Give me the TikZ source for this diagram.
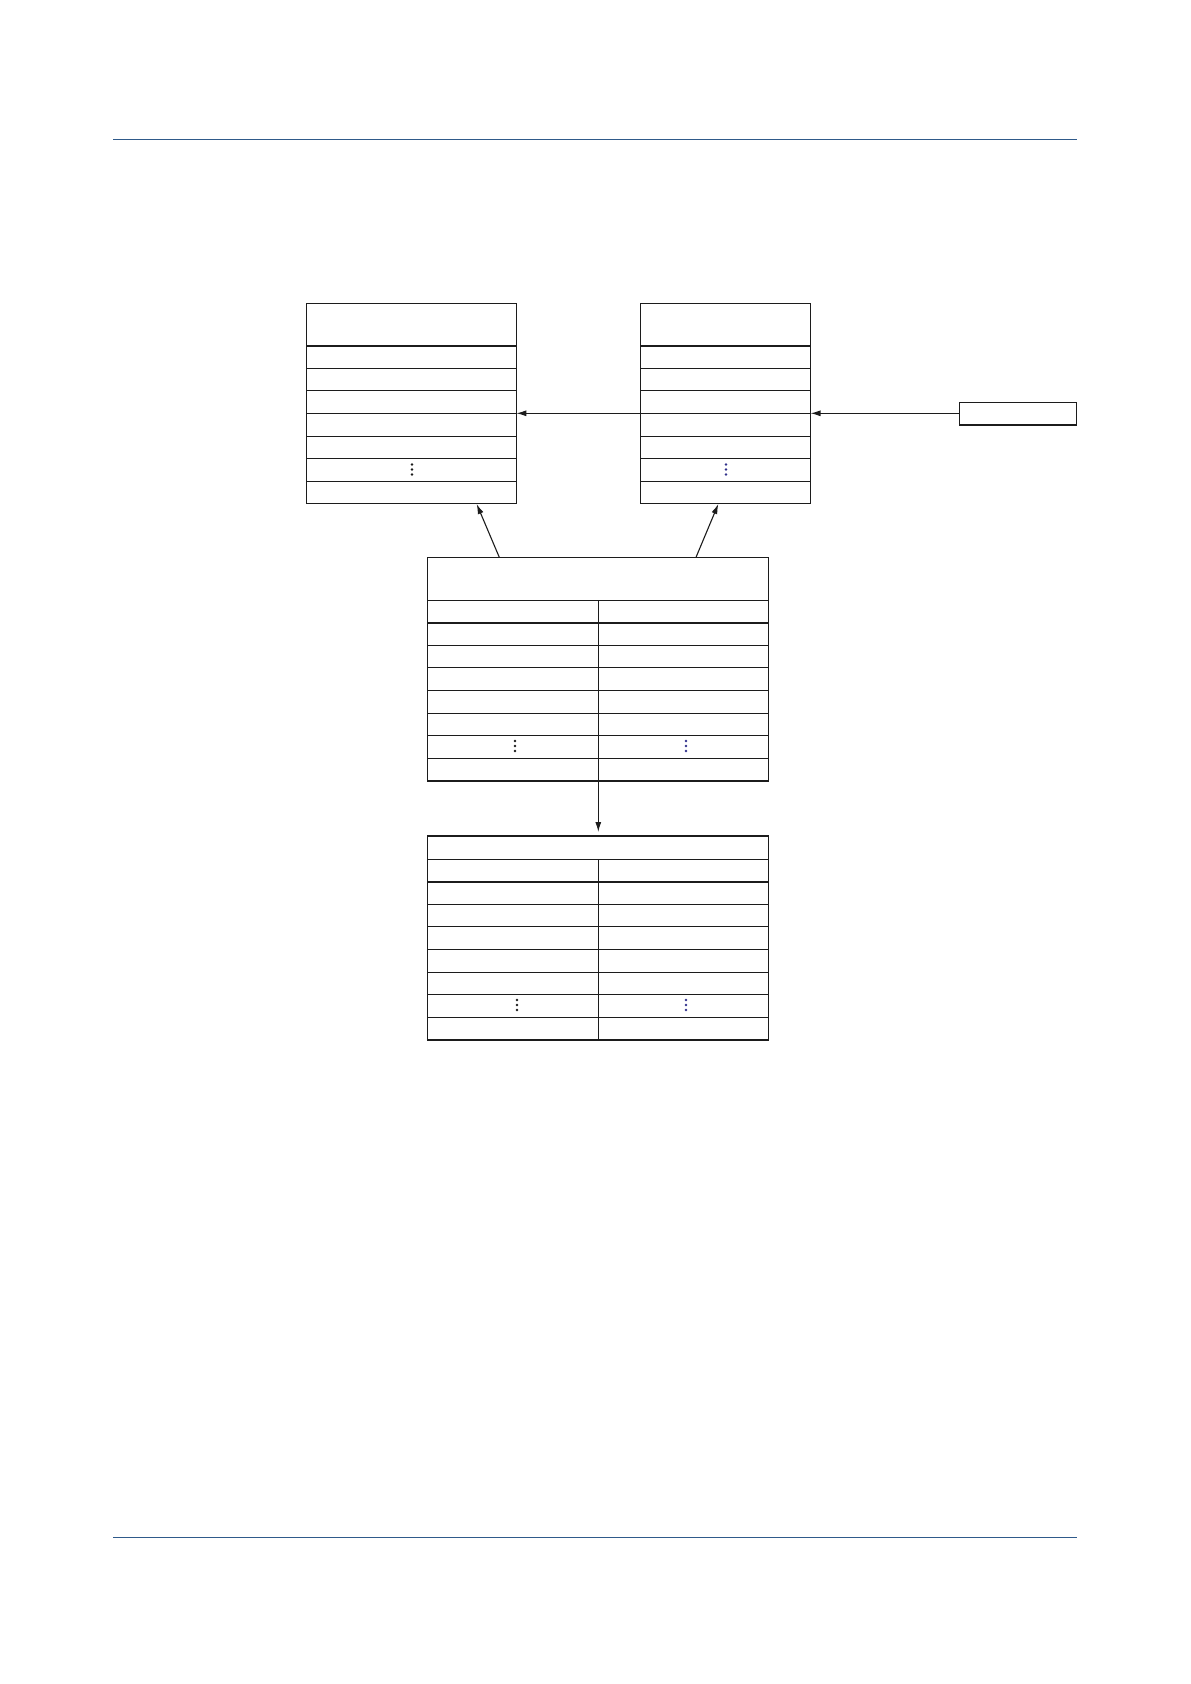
\documentclass[tikz,border=0pt]{standalone}
\usetikzlibrary{arrows.meta}
\definecolor{rulecol}{RGB}{47,90,138}
\definecolor{linecol}{RGB}{28,28,28}
\definecolor{dotblue}{RGB}{50,50,140}
\begin{document}
\begin{tikzpicture}[x=1pt,y=-1pt,
  tbl/.style={draw=linecol,line width=1.1pt,inner sep=0pt,outer sep=0pt,anchor=north west},
  rowline/.style={draw=linecol,line width=1.1pt},
  thickline/.style={draw=linecol,line width=2.1pt},
  conn/.style={draw=linecol,line width=1.1pt,-{Latex[length=10pt,width=6pt]}},
  pagerule/.style={draw=rulecol,line width=1.3pt}]
\useasboundingbox (0,0) rectangle (1191,1684);
% page rules
\coordinate (r1a) at (113,139.3);
\coordinate (r1b) at (1076.7,139.3);
\coordinate (r2a) at (113,1537.3);
\coordinate (r2b) at (1076.7,1537.3);
\draw[pagerule] (r1a) -- (r1b);
\draw[pagerule] (r2a) -- (r2b);
% top-left table
\node[tbl,minimum width=210pt,minimum height=200.6pt] (TL) at (306.3,303.3) {};
\draw[thickline] (306.3,345.7) -- (516.3,345.7);
\foreach \y in {368.3,390.9,413.5,436.1,458.7,481.3}
  \draw[rowline] (306.3,\y) -- (516.3,\y);
% top-right table
\node[tbl,minimum width=170pt,minimum height=200.6pt] (TR) at (640.5,303.3) {};
\draw[thickline] (640.5,345.7) -- (810.5,345.7);
\foreach \y in {368.3,390.9,413.5,436.1,458.7,481.3}
  \draw[rowline] (640.5,\y) -- (810.5,\y);
% small box
\node[tbl,minimum width=117pt,minimum height=22.7pt] (SB) at (959.3,402.3) {};
% middle table
\node[tbl,minimum width=341pt,minimum height=223.7pt] (M) at (427.3,557.3) {};
\draw[rowline] (427.3,600.5) -- (768.3,600.5);
\draw[thickline] (427.3,622.7) -- (768.3,622.7);
\foreach \y in {645.3,667.9,690.5,713.1,735.7,758.3}
  \draw[rowline] (427.3,\y) -- (768.3,\y);
\draw[rowline] (598.3,600.5) -- (598.3,781);
% bottom table
\node[tbl,minimum width=341pt,minimum height=204pt] (B) at (427.3,836) {};
\draw[rowline] (427.3,859.3) -- (768.3,859.3);
\draw[thickline] (427.3,881.7) -- (768.3,881.7);
\foreach \y in {904.3,926.9,949.5,972.1,994.7,1017.3}
  \draw[rowline] (427.3,\y) -- (768.3,\y);
\draw[rowline] (598.3,859.3) -- (598.3,1040);
% vertical ellipses
\foreach \x/\y/\c in {412/469.5/linecol, 726/469.5/dotblue,
                     515/746/linecol, 686/746/dotblue,
                     517/1005/linecol, 686/1005/dotblue}
  \foreach \d in {-5,0,5}
    \fill[\c] (\x,\y+\d) circle (1.35pt);
% connector end points
\coordinate (m1) at (499.3,557.3);
\coordinate (tl1) at (476.7,504);
\coordinate (m2) at (696,557.3);
\coordinate (tr1) at (718.3,504);
\coordinate (trl) at (640.5,413.3);
\coordinate (tlr) at (516.3,413.3);
\coordinate (sbl) at (959.3,413.3);
\coordinate (trr) at (810.5,413.3);
\coordinate (mb) at (598.3,781);
\coordinate (bt) at (598.3,836);
\draw[conn] (m1) -- (tl1);
\draw[conn] (m2) -- (tr1);
\draw[conn] (trl) -- (tlr);
\draw[conn] (sbl) -- (trr);
\draw[conn,shorten >=4pt] (mb) -- (bt);
\end{tikzpicture}
\end{document}
